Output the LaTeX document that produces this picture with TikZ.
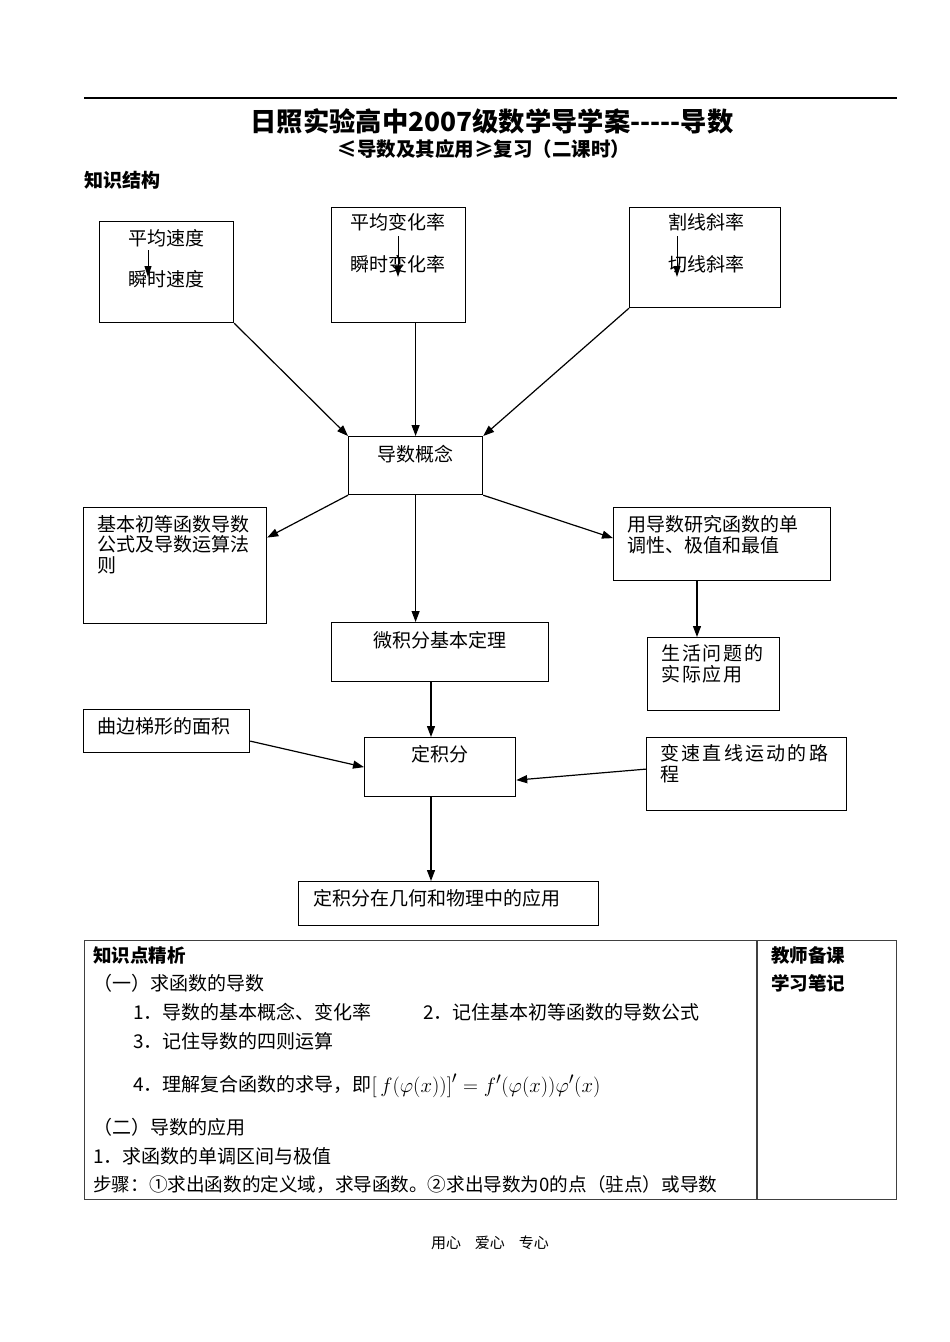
\documentclass[tikz,border=0pt]{standalone}
\usepackage{fontspec}
\usepackage{graphicx}
\setmainfont{Noto Sans CJK SC}
\usetikzlibrary{arrows.meta,calc}
\tikzset{
  box/.style={draw, line width=1.2pt, inner sep=0pt, anchor=north west},
  txt/.style={inner sep=0pt, anchor=base west, align=left, font=\fontsize{19}{20.5}\selectfont},
  ctxt/.style={inner sep=0pt, anchor=base, font=\fontsize{19}{20.5}\selectfont},
  arr/.style={line width=1.2pt, -{Triangle[length=11pt,width=8pt]}},
  sarr/.style={line width=1pt, -{Triangle[length=11pt,width=7pt]}}
}
\begin{document}
\begin{tikzpicture}[x=1pt,y=-1pt]
\useasboundingbox (0,0) rectangle (950,1342);
% header
\coordinate (hl) at (84,98);
\coordinate (hr) at (897,98);
\draw[line width=1.5pt] (hl) -- (hr);
\node[inner sep=0pt, anchor=base, font=\fontsize{26.3}{28}\selectfont\bfseries] (title) at (492,131) {日照实验高中2007级数学导学案-{}-{}-{}-{}-导数};
\node[inner sep=0pt, anchor=base, font=\fontsize{19.5}{21}\selectfont\bfseries] (sub) at (484,156) {≤导数及其应用≥复习（二课时）};
\node[inner sep=0pt, anchor=base west, font=\fontsize{19}{20}\selectfont\bfseries] (kstruct) at (84,187) {知识结构};

% boxes
\node[box, minimum width=134pt, minimum height=101pt] (b1) at (99,221) {};
\node[box, minimum width=134pt, minimum height=115pt] (b2) at (331,207) {};
\node[box, minimum width=151pt, minimum height=100pt] (b3) at (629,207) {};
\node[box, minimum width=134pt, minimum height=58pt] (concept) at (348,436) {};
\node[box, minimum width=183pt, minimum height=116pt] (basic) at (83,507) {};
\node[box, minimum width=217pt, minimum height=73pt] (study) at (613,507) {};
\node[box, minimum width=217pt, minimum height=59pt] (thm) at (331,622) {};
\node[box, minimum width=132pt, minimum height=73pt] (life) at (647,637) {};
\node[box, minimum width=166pt, minimum height=43pt] (curve) at (83,709) {};
\node[box, minimum width=151pt, minimum height=59pt] (defint) at (364,737) {};
\node[box, minimum width=200pt, minimum height=73pt] (motion) at (646,737) {};
\node[box, minimum width=300pt, minimum height=44pt] (app) at (298,881) {};

% box texts (multi-line nodes: base = baseline of last line)
\node[ctxt] (b1t) at (166,245) {平均速度};
\node[ctxt] (b1b) at (166,286) {瞬时速度};
\node[ctxt] (b2t) at (398,229) {平均变化率};
\node[ctxt] (b2b) at (398,271) {瞬时变化率};
\node[ctxt] (b3t) at (706,229) {割线斜率};
\node[ctxt] (b3b) at (706,271) {切线斜率};
\node[ctxt] (conceptt) at (415,461) {导数概念};
\node[txt] (basict) at (97,572) {基本初等函数导数\\公式及导数运算法\\则};
\node[txt] (studyt) at (627,552) {用导数研究函数的单\\调性、极值和最值};
\node[ctxt] (thmt) at (440,647) {微积分基本定理};
\node[txt, font=\fontsize{19}{20.5}\selectfont\addfontfeatures{LetterSpace=10}] (lifet) at (661,681) {生活问题的\\实际应用};
\node[txt] (curvet) at (97,733) {曲边梯形的面积};
\node[ctxt] (defintt) at (440,761) {定积分};
\node[txt, font=\fontsize{19}{20.5}\selectfont\addfontfeatures{LetterSpace=12}] (motiont) at (660,781) {变速直线运动的路\\程};
\node[txt] (appt) at (313,905) {定积分在几何和物理中的应用};

% small arrows inside top boxes
\coordinate (s1a) at (148,250); \coordinate (s1b) at (148,277);
\coordinate (s2a) at (398,236); \coordinate (s2b) at (398,277);
\coordinate (s3a) at (677,236); \coordinate (s3b) at (677,277);
\draw[sarr] (s1a) -- (s1b);
\draw[sarr] (s2a) -- (s2b);
\draw[sarr] (s3a) -- (s3b);

% connectors
\coordinate (x697) at (697,0);
\coordinate (x431) at (431,0);
\draw[arr] (b1.south east) -- (concept.north west);
\draw[arr] (concept.north |- b2.south) -- (concept.north);
\draw[arr] (b3.south west) -- (concept.north east);
\draw[arr] (concept.south west) -- ([yshift=28pt]basic.east);
\draw[arr] (concept.south east) -- ([yshift=6pt]study.west);
\draw[arr] (concept.south) -- (concept.south |- thm.north);
\draw[arr] (study.south -| x697) -- (life.north -| x697);
\draw[arr] (thm.south -| x431) -- (defint.north -| x431);
\draw[arr] ([yshift=-10pt]curve.east) -- (defint.west);
\draw[arr] ([yshift=5pt]motion.west) -- ([yshift=-13pt]defint.east);
\draw[arr] (defint.south -| x431) -- (app.north -| x431);

% table
\node[box, draw=black!75, line width=1.1pt, minimum width=812pt, minimum height=259pt] (tbl) at (84,940) {};
\coordinate (x757) at (757,0);
\draw[draw=black!75, line width=1.1pt] (tbl.north -| x757) -- (tbl.south -| x757);
\node[txt, font=\fontsize{18.5}{20}\selectfont\bfseries] (k1) at (93,962) {知识点精析};
\node[txt] (k2) at (93,990) {（一）求函数的导数};
\node[txt] (k3) at (133,1019) {1．导数的基本概念、变化率};
\node[txt] (k4) at (423,1019) {2．记住基本初等函数的导数公式};
\node[txt] (k5) at (133,1048) {3．记住导数的四则运算};
\node[txt] (k6) at (133,1091) {4．理解复合函数的求导，即\raisebox{-1pt}{\scalebox{1.2}{$\Bigl[\,f(\varphi(x))\Bigr]'=f'(\varphi(x))\varphi'(x)$}}};
\node[txt] (k7) at (93,1134) {（二）导数的应用};
\node[txt] (k8) at (93,1163) {1．求函数的单调区间与极值};
\node[txt, font=\fontsize{18.6}{20}\selectfont] (k9) at (93,1191) {步骤：①求出函数的定义域，求导函数。②求出导数为0的点（驻点）或导数};
\node[ctxt, font=\fontsize{18.5}{20}\selectfont\bfseries] (n1) at (808,962) {教师备课};
\node[ctxt, font=\fontsize{18.5}{20}\selectfont\bfseries] (n2) at (808,990) {学习笔记};

% footer
\node[inner sep=0pt, anchor=base, font=\fontsize{15}{17}\selectfont] (foot) at (490,1248) {用心\hspace{14pt}爱心\hspace{14pt}专心};
\end{tikzpicture}
\end{document}
